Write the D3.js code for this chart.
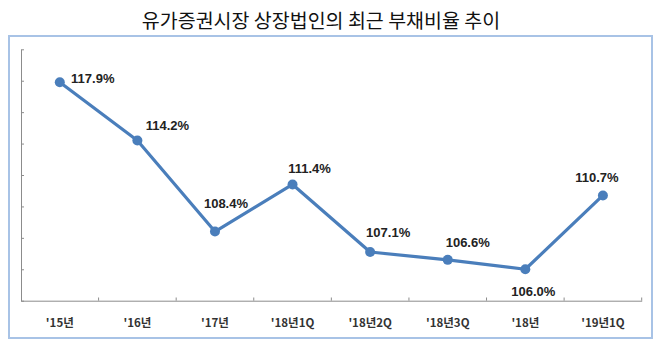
<!DOCTYPE html>
<html><head><meta charset="utf-8">
<script src="https://cdn.jsdelivr.net/npm/d3@7"></script>
<style>
html,body{margin:0;padding:0;background:#fff;}
svg{display:block;}
</style></head>
<body>
<script>
// Debt ratio of KOSPI-listed companies
const categories = ["'15년", "'16년", "'17년", "'18년1Q", "'18년2Q", "'18년3Q", "'18년", "'19년1Q"];
const debtRatio = [117.9, 114.2, 108.4, 111.4, 107.1, 106.6, 106.0, 110.7];
const yTicks = [104, 106, 108, 110, 112, 114, 116, 118, 120];
// label placement relative to each marker (dx, dy of text centre)
const labelDx = [33, 30, 11, 17, 18, 20, 8, -6];
const labelDy = [-4, -15, -28, -16, -19, -17, 22, -18];

const W = 660, H = 343;
const svg = d3.select("body").append("svg").attr("width", W).attr("height", H);

svg.append("text")
  .attr("x", 321).attr("y", 19)
  .attr("text-anchor", "middle").attr("dominant-baseline", "central")
  .style("font-family", "'Noto Sans CJK KR', sans-serif")
  .style("font-size", "19.5px").style("fill", "#111")
  .text("유가증권시장 상장법인의 최근 부채비율 추이");

svg.append("rect")
  .attr("x", 9).attr("y", 36).attr("width", 643).attr("height", 302)
  .attr("fill", "none").attr("stroke", "#a8c3e6").attr("stroke-width", 2);

const x = d3.scaleBand().domain(categories).range([21, 641.7]);
const y = d3.scaleLinear().domain([104, 120]).range([300.7, 49.3]);

const axisColor = "#8c8c8c";
const gx = svg.append("g").attr("transform", "translate(0,300.7)")
  .call(d3.axisBottom(x).tickSize(0).tickFormat(d => d));
gx.select(".domain").attr("stroke", axisColor);
gx.selectAll("text").attr("dy", null).attr("y", 21)
  .attr("dominant-baseline", "central")
  .style("font-family", "'Noto Sans CJK KR', sans-serif")
  .style("font-size", "11.5px").style("font-weight", "bold").style("fill", "#333");
// tick marks at band boundaries, pointing up
const bounds = categories.map(c => x(c)).concat([x.range()[1]]).slice(1);
svg.append("g").selectAll("line").data(bounds).join("line")
  .attr("x1", d => d).attr("x2", d => d).attr("y1", 300.7).attr("y2", 297.5)
  .attr("stroke", axisColor);

const gy = svg.append("g").attr("transform", "translate(21,0)")
  .call(d3.axisLeft(y).tickValues(yTicks).tickSize(-3).tickSizeOuter(0).tickFormat(""));
gy.select(".domain").attr("stroke", axisColor);
gy.selectAll(".tick line").attr("stroke", axisColor);

const cx = c => x(c) + x.bandwidth() / 2;
const line = d3.line().x((d, i) => cx(categories[i])).y(d => y(d));

svg.append("path").datum(debtRatio)
  .attr("d", line).attr("fill", "none")
  .attr("stroke", "#4a7ebb").attr("stroke-width", 3.2).attr("stroke-linejoin", "round");

svg.append("g").selectAll("circle").data(debtRatio).join("circle")
  .attr("cx", (d, i) => cx(categories[i])).attr("cy", d => y(d))
  .attr("r", 5).attr("fill", "#4a7ebb");

svg.append("g").selectAll("text").data(debtRatio).join("text")
  .attr("x", (d, i) => cx(categories[i]) + labelDx[i])
  .attr("y", (d, i) => y(d) + labelDy[i])
  .attr("text-anchor", "middle").attr("dominant-baseline", "central")
  .style("font-family", "'Liberation Sans', Arial, sans-serif")
  .style("font-size", "13px").style("font-weight", "bold").style("fill", "#222")
  .text(d => d.toFixed(1) + "%");
</script>
</body></html>
